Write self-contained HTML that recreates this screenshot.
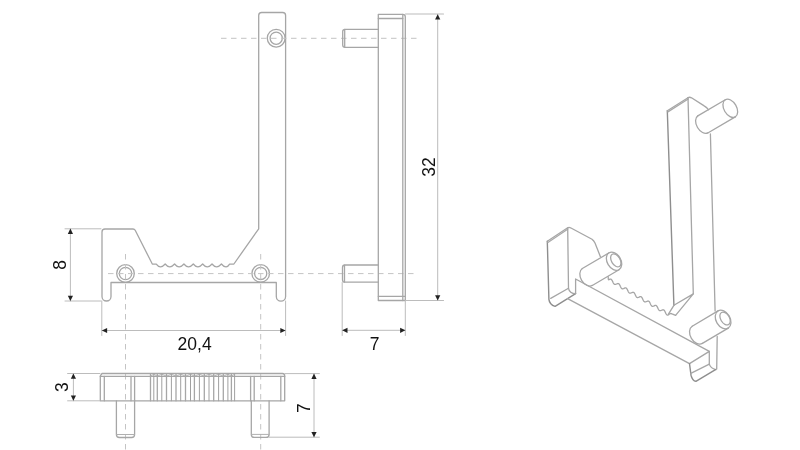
<!DOCTYPE html>
<html><head><meta charset="utf-8"><style>
html,body{margin:0;padding:0;background:#fff;width:800px;height:450px;overflow:hidden}
svg{display:block} text{-webkit-font-smoothing:antialiased} body{will-change:transform}
</style></head><body>
<svg width="800" height="450" viewBox="0 0 800 450" stroke-linecap="round" stroke-linejoin="round">
<path d="M258.7,228.8 L258.7,15.5 Q258.7,12.5 261.7,12.5 L282.6,12.5 Q285.6,12.5 285.6,15.5 L285.6,296.4 A4.65,4.65 0 0 1 276.3,296.4 L276.3,282.5 L111,282.5 L111,296.5 A4.5,4.5 0 0 1 102,296.5 L102,232 Q102,229 105,229 L133,229 Q134.5,229 135.2,230.3 L152.3,264 L156.3,264.2 Q158.20,266.9 160.50,266.8 Q162.80,266.7 165.19,264.0 Q167.57,266.9 169.87,266.8 Q172.17,266.7 174.56,264.0 Q176.94,266.9 179.24,266.8 Q181.54,266.7 183.93,264.0 Q186.31,266.9 188.61,266.8 Q190.91,266.7 193.30,264.0 Q195.68,266.9 197.98,266.8 Q200.28,266.7 202.66,264.0 Q205.05,266.9 207.35,266.8 Q209.65,266.7 212.03,264.0 Q214.42,266.9 216.72,266.8 Q219.02,266.7 221.41,264.0 Q223.79,266.9 226.09,266.8 Q228.09,266.7 229.59,264.1 L233.9,264 Z" fill="none" stroke="#a6a6a6" stroke-width="1.3" />
<circle cx="276.2" cy="38.2" r="8.9" fill="none" stroke="#a6a6a6" stroke-width="1.3"/>
<circle cx="276.2" cy="38.2" r="6.1" fill="none" stroke="#a6a6a6" stroke-width="1.3"/>
<circle cx="125.5" cy="273.5" r="8.8" fill="none" stroke="#a6a6a6" stroke-width="1.3"/>
<circle cx="125.5" cy="273.5" r="6.2" fill="none" stroke="#a6a6a6" stroke-width="1.3"/>
<circle cx="260.7" cy="273.4" r="8.8" fill="none" stroke="#a6a6a6" stroke-width="1.3"/>
<circle cx="260.7" cy="273.4" r="6.1" fill="none" stroke="#a6a6a6" stroke-width="1.3"/>
<line x1="221" y1="38.3" x2="421" y2="38.3" stroke="#c4c4c4" stroke-width="1.0" stroke-dasharray="5.5 4.5" stroke-dashoffset="0" stroke-linecap="butt"/>
<line x1="108" y1="273.6" x2="418" y2="273.6" stroke="#c4c4c4" stroke-width="1.0" stroke-dasharray="5.5 4.5" stroke-dashoffset="0" stroke-linecap="butt"/>
<line x1="125.5" y1="254" x2="125.5" y2="450" stroke="#c4c4c4" stroke-width="1.0" stroke-dasharray="5.5 4.5" stroke-dashoffset="0" stroke-linecap="butt"/>
<line x1="260.7" y1="254" x2="260.7" y2="450" stroke="#c4c4c4" stroke-width="1.0" stroke-dasharray="5.5 4.5" stroke-dashoffset="0" stroke-linecap="butt"/>
<line x1="65" y1="228.8" x2="101" y2="228.8" stroke="#bcbcbc" stroke-width="1.0" />
<line x1="65" y1="301" x2="101" y2="301" stroke="#bcbcbc" stroke-width="1.0" />
<line x1="70.4" y1="229" x2="70.4" y2="301" stroke="#bcbcbc" stroke-width="1.0" />
<path d="M70.40,228.60 L73.00,233.90 L67.80,233.90 Z" fill="#222"/>
<path d="M70.40,301.00 L67.80,295.70 L73.00,295.70 Z" fill="#222"/>
<line x1="101.8" y1="301" x2="101.8" y2="335.5" stroke="#bcbcbc" stroke-width="1.0" />
<line x1="285.6" y1="301" x2="285.6" y2="335.5" stroke="#bcbcbc" stroke-width="1.0" />
<line x1="102" y1="330.5" x2="285.5" y2="330.5" stroke="#bcbcbc" stroke-width="1.0" />
<path d="M101.80,330.50 L107.10,327.90 L107.10,333.10 Z" fill="#222"/>
<path d="M285.60,330.50 L280.30,333.10 L280.30,327.90 Z" fill="#222"/>
<path d="M378.3,300.5 L378.3,14.3 L402.8,14.3 Q405.3,14.3 405.3,16.8 L405.3,300.5 Z" fill="none" stroke="#a6a6a6" stroke-width="1.3" />
<line x1="378.3" y1="18.5" x2="402.8" y2="18.5" stroke="#a6a6a6" stroke-width="1.3" />
<line x1="402.8" y1="14.3" x2="402.8" y2="300.5" stroke="#a6a6a6" stroke-width="1.3" />
<line x1="378.3" y1="296.3" x2="405" y2="296.3" stroke="#a6a6a6" stroke-width="1.3" />
<path d="M378.3,29.3 L345,29.3 Q342.7,29.3 342.7,31.5 L342.7,45.1 Q342.7,47.3 345,47.3 L378.3,47.3" fill="none" stroke="#a6a6a6" stroke-width="1.3" />
<line x1="344.7" y1="29.5" x2="344.7" y2="47.1" stroke="#a6a6a6" stroke-width="1.3" />
<path d="M378.3,265 L345,265 Q342.5,265 342.5,267.5 L342.5,279.7 Q342.5,282.2 345,282.2 L378.3,282.2" fill="none" stroke="#a6a6a6" stroke-width="1.3" />
<line x1="344.5" y1="265.2" x2="344.5" y2="282" stroke="#a6a6a6" stroke-width="1.3" />
<line x1="405.5" y1="14.0" x2="443.5" y2="14.0" stroke="#bcbcbc" stroke-width="1.2" />
<line x1="405.5" y1="300.5" x2="443.5" y2="300.5" stroke="#bcbcbc" stroke-width="1.2" />
<line x1="437.7" y1="14.5" x2="437.7" y2="300.5" stroke="#bcbcbc" stroke-width="1.0" />
<path d="M437.70,14.30 L440.30,19.60 L435.10,19.60 Z" fill="#222"/>
<path d="M437.70,300.50 L435.10,295.20 L440.30,295.20 Z" fill="#222"/>
<line x1="342.2" y1="282.5" x2="342.2" y2="335.5" stroke="#bcbcbc" stroke-width="1.0" />
<line x1="405.3" y1="300.5" x2="405.3" y2="335.5" stroke="#bcbcbc" stroke-width="1.0" />
<line x1="342.5" y1="330.3" x2="405" y2="330.3" stroke="#bcbcbc" stroke-width="1.0" />
<path d="M342.20,330.30 L347.50,327.70 L347.50,332.90 Z" fill="#222"/>
<path d="M405.40,330.30 L400.10,332.90 L400.10,327.70 Z" fill="#222"/>
<path d="M102,373.5 L282.5,373.5 Q284.7,373.5 284.7,375.7 L284.7,400.8 L100.3,400.8 L100.3,375.8 Z" fill="none" stroke="#a6a6a6" stroke-width="1.3" />
<line x1="100.3" y1="376.4" x2="284.7" y2="376.4" stroke="#a6a6a6" stroke-width="1.3" />
<line x1="104.3" y1="376.4" x2="104.3" y2="400.8" stroke="#a6a6a6" stroke-width="1.3" />
<line x1="280.8" y1="376.4" x2="280.8" y2="400.8" stroke="#a6a6a6" stroke-width="1.3" />
<line x1="131" y1="376.4" x2="131" y2="400.8" stroke="#a6a6a6" stroke-width="1.3" />
<line x1="134.6" y1="376.4" x2="134.6" y2="400.8" stroke="#a6a6a6" stroke-width="1.3" />
<line x1="250.6" y1="376.4" x2="250.6" y2="400.8" stroke="#a6a6a6" stroke-width="1.3" />
<line x1="254.2" y1="376.4" x2="254.2" y2="400.8" stroke="#a6a6a6" stroke-width="1.3" />
<line x1="150.5" y1="373.8" x2="150.5" y2="400.8" stroke="#a6a6a6" stroke-width="1.3" />
<line x1="153.8" y1="373.8" x2="153.8" y2="400.8" stroke="#a0a0a0" stroke-width="1.0" />
<line x1="157.3" y1="373.8" x2="157.3" y2="400.8" stroke="#a6a6a6" stroke-width="1.3" />
<line x1="161.8" y1="373.8" x2="161.8" y2="400.8" stroke="#a0a0a0" stroke-width="1.0" />
<line x1="166.5" y1="373.8" x2="166.5" y2="400.8" stroke="#a6a6a6" stroke-width="1.3" />
<line x1="171.4" y1="373.8" x2="171.4" y2="400.8" stroke="#a0a0a0" stroke-width="1.0" />
<line x1="176" y1="373.8" x2="176" y2="400.8" stroke="#a6a6a6" stroke-width="1.3" />
<line x1="180.7" y1="373.8" x2="180.7" y2="400.8" stroke="#a0a0a0" stroke-width="1.0" />
<line x1="185.5" y1="373.8" x2="185.5" y2="400.8" stroke="#a6a6a6" stroke-width="1.3" />
<line x1="190.5" y1="373.8" x2="190.5" y2="400.8" stroke="#a0a0a0" stroke-width="1.0" />
<line x1="194.4" y1="373.8" x2="194.4" y2="400.8" stroke="#a6a6a6" stroke-width="1.3" />
<line x1="199.4" y1="373.8" x2="199.4" y2="400.8" stroke="#a0a0a0" stroke-width="1.0" />
<line x1="204.3" y1="373.8" x2="204.3" y2="400.8" stroke="#a6a6a6" stroke-width="1.3" />
<line x1="209" y1="373.8" x2="209" y2="400.8" stroke="#a0a0a0" stroke-width="1.0" />
<line x1="213.7" y1="373.8" x2="213.7" y2="400.8" stroke="#a6a6a6" stroke-width="1.3" />
<line x1="218.6" y1="373.8" x2="218.6" y2="400.8" stroke="#a0a0a0" stroke-width="1.0" />
<line x1="223.3" y1="373.8" x2="223.3" y2="400.8" stroke="#a6a6a6" stroke-width="1.3" />
<line x1="227.9" y1="373.8" x2="227.9" y2="400.8" stroke="#a0a0a0" stroke-width="1.0" />
<line x1="231.4" y1="373.8" x2="231.4" y2="400.8" stroke="#a6a6a6" stroke-width="1.3" />
<line x1="234.6" y1="373.8" x2="234.6" y2="400.8" stroke="#a0a0a0" stroke-width="1.0" />
<path d="M150.5,376.2 L153.8,374.2 L157.3,376.2 L161.8,374.2 L166.5,376.2 L171.4,374.2 L176,376.2 L180.7,374.2 L185.5,376.2 L190.5,374.2 L194.4,376.2 L199.4,374.2 L204.3,376.2 L209,374.2 L213.7,376.2 L218.6,374.2 L223.3,376.2 L227.9,374.2 L231.4,376.2 L234.6,374.2" fill="none" stroke="#a8a8a8" stroke-width="0.8" />
<path d="M116.4,400.8 L116.4,434.5 Q116.4,437.5 119.4,437.5 L131.6,437.5 Q134.6,437.5 134.6,434.5 L134.6,400.8" fill="none" stroke="#a6a6a6" stroke-width="1.3" />
<line x1="116.6" y1="434.5" x2="134.4" y2="434.5" stroke="#b0b0b0" stroke-width="1.0" />
<path d="M251.3,400.8 L251.3,434.4 Q251.3,437.4 254.3,437.4 L266.1,437.4 Q269.1,437.4 269.1,434.4 L269.1,400.8" fill="none" stroke="#a6a6a6" stroke-width="1.3" />
<line x1="251.5" y1="434.4" x2="268.9" y2="434.4" stroke="#b0b0b0" stroke-width="1.0" />
<line x1="67.6" y1="373.5" x2="100" y2="373.5" stroke="#bcbcbc" stroke-width="1.0" />
<line x1="67.6" y1="400.8" x2="100" y2="400.8" stroke="#bcbcbc" stroke-width="1.0" />
<line x1="73.4" y1="373.7" x2="73.4" y2="400.8" stroke="#bcbcbc" stroke-width="1.0" />
<path d="M73.40,373.50 L76.00,378.80 L70.80,378.80 Z" fill="#222"/>
<path d="M73.40,400.80 L70.80,395.50 L76.00,395.50 Z" fill="#222"/>
<line x1="285" y1="373.6" x2="319.4" y2="373.6" stroke="#bcbcbc" stroke-width="1.0" />
<line x1="269" y1="437.2" x2="319.4" y2="437.2" stroke="#bcbcbc" stroke-width="1.0" />
<line x1="314" y1="373.8" x2="314" y2="437" stroke="#bcbcbc" stroke-width="1.0" />
<path d="M314.00,373.60 L316.60,378.90 L311.40,378.90 Z" fill="#222"/>
<path d="M314.00,437.20 L311.40,431.90 L316.60,431.90 Z" fill="#222"/>
<text x="374.7" y="349.7" font-size="17.5" text-anchor="middle" font-family="Liberation Sans, sans-serif" fill="#111">7</text>
<text x="194.6" y="350" font-size="17.5" text-anchor="middle" font-family="Liberation Sans, sans-serif" fill="#111">20,4</text>
<text transform="translate(434.7,167) rotate(-90)" font-size="17.5" text-anchor="middle" font-family="Liberation Sans, sans-serif" fill="#111">32</text>
<text transform="translate(65.8,265) rotate(-90)" font-size="17.5" text-anchor="middle" font-family="Liberation Sans, sans-serif" fill="#111">8</text>
<text transform="translate(68.2,387.2) rotate(-90)" font-size="17.5" text-anchor="middle" font-family="Liberation Sans, sans-serif" fill="#111">3</text>
<text transform="translate(310,408.1) rotate(-90)" font-size="17.5" text-anchor="middle" font-family="Liberation Sans, sans-serif" fill="#111">7</text>
<path d="M667.3,110.7 L673.9,305.3" fill="none" stroke="#8e8e8e" stroke-width="1.4"/>
<path d="M667.3,110.7 L688,97.7" fill="none" stroke="#a6a6a6" stroke-width="1.3"/>
<path d="M667.9,111.9 L688.2,99.0" fill="none" stroke="#a8a8a8" stroke-width="1.3"/>
<path d="M688,97.7 L693.3,293.9" fill="none" stroke="#a6a6a6" stroke-width="1.3"/>
<path d="M688,97.7 Q689.5,96.8 691.5,97.8 L703.8,105.6 Q707.2,107.5 708.5,109.8" fill="none" stroke="#a6a6a6" stroke-width="1.3"/>
<path d="M710.4,134 L715.1,311" fill="none" stroke="#a6a6a6" stroke-width="1.3"/>
<ellipse cx="0" cy="0" rx="9.9" ry="6.3" transform="translate(730.3,108.3) rotate(59.65296646819917)" fill="none" stroke="#a6a6a6" stroke-width="1.3"/>
<path d="M697.80,115.86 L725.30,99.76" fill="none" stroke="#a6a6a6" stroke-width="1.3"/>
<path d="M707.80,132.94 L735.30,116.84" fill="none" stroke="#a6a6a6" stroke-width="1.3"/>
<path d="M697.80,115.86 A9.9,6.3 59.65 0 0 707.80,132.94" fill="none" stroke="#a6a6a6" stroke-width="1.3"/>
<path d="M547.3,241.3 L548.9,299.3 Q549.5,304.5 555.1,306.4 L575.6,293.7" fill="none" stroke="#8e8e8e" stroke-width="1.4"/>
<path d="M547.3,241.3 L567.3,228" fill="none" stroke="#a6a6a6" stroke-width="1.3"/>
<path d="M547.9,242.5 L567.6,229.3" fill="none" stroke="#a8a8a8" stroke-width="1.3"/>
<path d="M567.7,228 L568.5,288.3" fill="none" stroke="#a6a6a6" stroke-width="1.3"/>
<path d="M567.7,228 Q568.8,227 570.5,227.8 L592,239.3 Q594,241 595,243 L600.4,256.7" fill="none" stroke="#a6a6a6" stroke-width="1.3"/>
<path d="M550.7,298.4 L568.5,288.3" fill="none" stroke="#a6a6a6" stroke-width="1.3"/>
<path d="M568.5,288.3 Q569.5,293.5 575.6,293.7 L575.6,279 L709.3,351.4" fill="none" stroke="#a6a6a6" stroke-width="1.3"/>
<path d="M567.6,298.6 L689.5,363.6" fill="none" stroke="#a6a6a6" stroke-width="1.3"/>
<ellipse cx="0" cy="0" rx="9.8" ry="6.8" transform="translate(614.05,261.25) rotate(59.51105950016907)" fill="none" stroke="#a6a6a6" stroke-width="1.3"/>
<ellipse cx="0" cy="0" rx="7.1" ry="4.3" transform="translate(615.8,260.4) rotate(59.51105950016907)" fill="none" stroke="#a6a6a6" stroke-width="1.3"/>
<path d="M582.33,268.56 L609.08,252.81" fill="none" stroke="#a6a6a6" stroke-width="1.3"/>
<path d="M592.27,285.44 L619.02,269.69" fill="none" stroke="#a6a6a6" stroke-width="1.3"/>
<path d="M582.33,268.56 A9.8,6.8 59.51 0 0 592.27,285.44" fill="none" stroke="#a6a6a6" stroke-width="1.3"/>
<path d="M608.2,276.7 L608.3,279.2 L608.60,279.82 L609.06,279.60 L609.51,279.39 L609.95,279.22 L610.38,279.14 L610.79,279.17 L611.18,279.33 L611.54,279.63 L611.88,280.06 L612.20,280.59 L612.50,281.21 L612.80,281.86 L613.10,282.51 L613.41,283.11 L613.73,283.63 L614.07,284.04 L614.44,284.32 L614.83,284.46 L615.24,284.47 L615.67,284.37 L616.12,284.19 L616.57,283.98 L617.02,283.77 L617.47,283.60 L617.90,283.52 L618.31,283.55 L618.69,283.71 L619.05,284.00 L619.39,284.43 L619.71,284.97 L620.02,285.58 L620.31,286.24 L620.61,286.88 L620.92,287.49 L621.24,288.01 L621.58,288.42 L621.95,288.69 L622.34,288.83 L622.75,288.84 L623.18,288.74 L623.63,288.57 L624.08,288.35 L624.54,288.14 L624.98,287.97 L625.41,287.89 L625.82,287.92 L626.20,288.08 L626.57,288.38 L626.90,288.81 L627.22,289.34 L627.53,289.96 L627.83,290.61 L628.12,291.26 L628.43,291.86 L628.75,292.38 L629.10,292.79 L629.46,293.07 L629.85,293.21 L630.26,293.22 L630.70,293.12 L631.14,292.94 L631.60,292.73 L632.05,292.52 L632.49,292.35 L632.92,292.27 L633.33,292.30 L633.72,292.46 L634.08,292.75 L634.42,293.18 L634.74,293.72 L635.04,294.33 L635.34,294.99 L635.64,295.63 L635.94,296.24 L636.27,296.76 L636.61,297.17 L636.97,297.44 L637.36,297.58 L637.78,297.59 L638.21,297.49 L638.65,297.32 L639.11,297.10 L639.56,296.89 L640.00,296.72 L640.43,296.64 L640.84,296.67 L641.23,296.83 L641.59,297.13 L641.93,297.56 L642.25,298.09 L642.55,298.71 L642.85,299.36 L643.15,300.01 L643.46,300.61 L643.78,301.13 L644.12,301.54 L644.49,301.82 L644.88,301.96 L645.29,301.97 L645.72,301.87 L646.17,301.69 L646.62,301.48 L647.07,301.27 L647.52,301.10 L647.95,301.02 L648.36,301.05 L648.74,301.21 L649.10,301.50 L649.44,301.93 L649.76,302.47 L650.07,303.08 L650.36,303.74 L650.66,304.38 L650.97,304.99 L651.29,305.51 L651.63,305.92 L652.00,306.19 L652.39,306.33 L652.80,306.34 L653.23,306.24 L653.68,306.07 L654.13,305.85 L654.59,305.64 L655.03,305.47 L655.46,305.39 L655.87,305.42 L656.25,305.58 L656.62,305.88 L656.95,306.31 L657.27,306.84 L657.58,307.46 L657.88,308.11 L658.17,308.76 L658.48,309.36 L658.80,309.88 L659.15,310.29 L659.51,310.57 L659.90,310.71 L660.31,310.72 L660.75,310.62 L661.19,310.44 L661.65,310.23 L662.10,310.02 L662.54,309.85 L662.97,309.77 L663.38,309.80 L663.77,309.96 L664.13,310.25 L664.47,310.68 L664.79,311.22 L665.09,311.83 L665.39,312.49 L665.69,313.13 L665.99,313.74 L666.32,314.26 L666.66,314.67 L667.02,314.94 L667.41,315.08 L667.83,315.09 L668.26,314.99 Q670,312.8 672,313.8 L675.6,315.3" fill="none" stroke="#a6a6a6" stroke-width="1.3"/>
<path d="M673.9,305.3 L693.3,293.9 L675.6,315.3" fill="none" stroke="#a6a6a6" stroke-width="1.3"/>
<path d="M673.9,305.3 L668.4,314.2" fill="none" stroke="#a6a6a6" stroke-width="1.3"/>
<ellipse cx="0" cy="0" rx="10.0" ry="7.0" transform="translate(723.1,319.5) rotate(59.331073350285116)" fill="none" stroke="#a6a6a6" stroke-width="1.3"/>
<ellipse cx="0" cy="0" rx="7.0" ry="4.4" transform="translate(725.0500000000001,318.5) rotate(59.331073350285116)" fill="none" stroke="#a6a6a6" stroke-width="1.3"/>
<path d="M692.20,326.20 L718.00,310.90" fill="none" stroke="#a6a6a6" stroke-width="1.3"/>
<path d="M702.40,343.40 L728.20,328.10" fill="none" stroke="#a6a6a6" stroke-width="1.3"/>
<path d="M692.20,326.20 A10.0,7.0 59.33 0 0 702.40,343.40" fill="none" stroke="#a6a6a6" stroke-width="1.3"/>
<path d="M717.2,336.4 L716.7,369.1" fill="none" stroke="#a6a6a6" stroke-width="1.3"/>
<path d="M689.5,363.6 L709.3,351.4 L709.3,364.2 Q710.5,368.5 716,369.7" fill="none" stroke="#a6a6a6" stroke-width="1.3"/>
<path d="M689.5,363.6 L691,375.2 Q692.5,381 695.9,381.3 L715.5,369.7" fill="none" stroke="#8e8e8e" stroke-width="1.4"/>
<path d="M690.8,373.4 L709.3,364.2" fill="none" stroke="#a6a6a6" stroke-width="1.3"/>
</svg>
</body></html>
